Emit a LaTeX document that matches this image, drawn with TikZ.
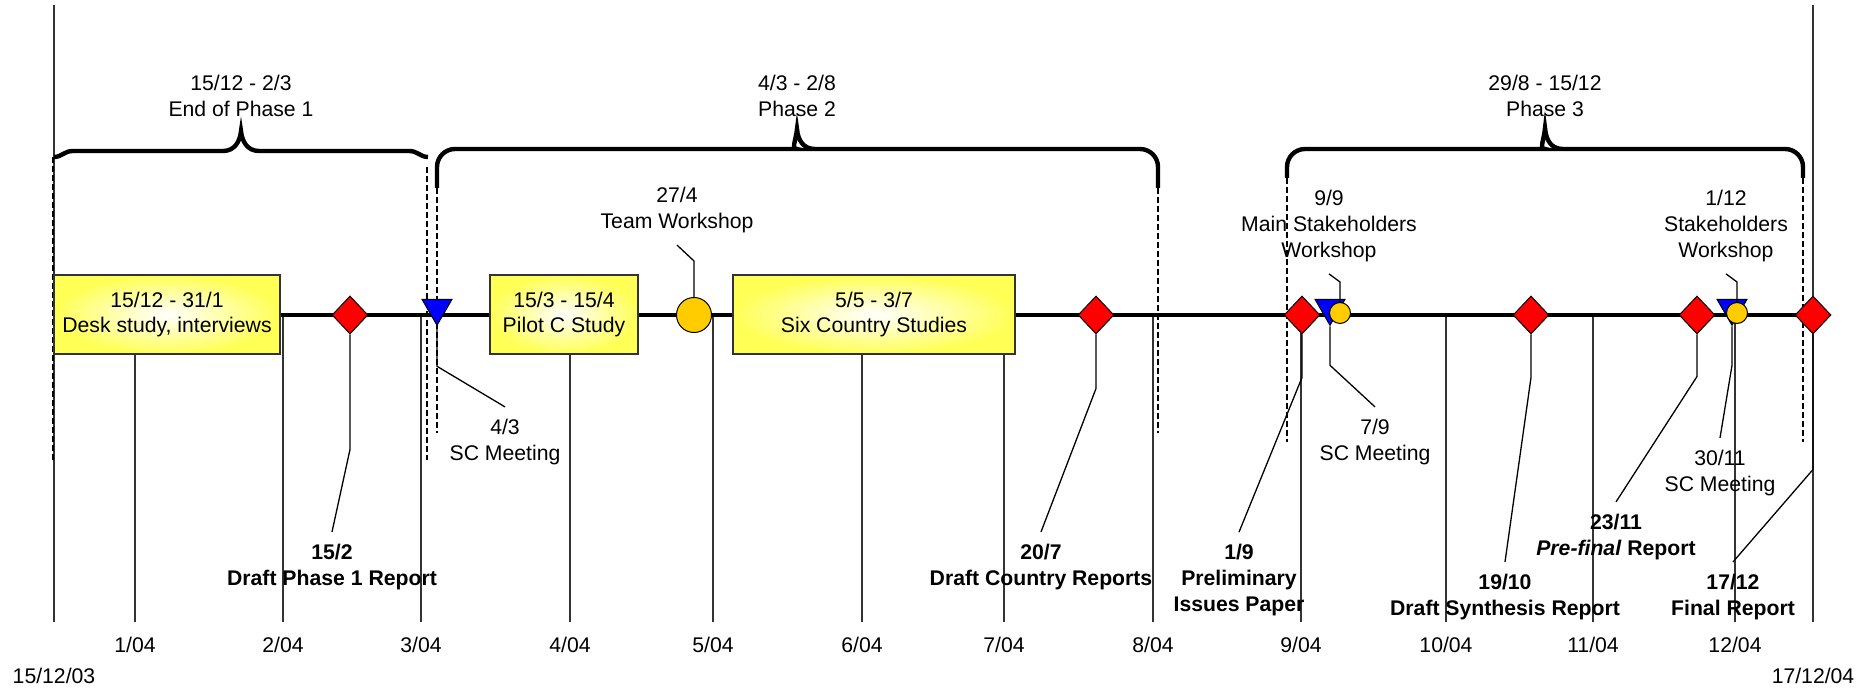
\documentclass[tikz,border=0pt]{standalone}
\usepackage{fontspec}
\setmainfont{Liberation Sans}
\definecolor{msred}{RGB}{255,0,0}
\definecolor{msblue}{RGB}{0,0,255}
\definecolor{msgold}{RGB}{255,204,0}
\definecolor{msyellow}{RGB}{255,255,85}
\definecolor{msgrey}{RGB}{51,51,51}
\usetikzlibrary{shapes.geometric}

\begin{document}
\begin{tikzpicture}[x=0.5pt, y=-0.5pt,
  every node/.style={font=\fontsize{10.6}{12.8}\selectfont, inner sep=0pt},
  task/.style={draw=msgrey, line width=0.65pt, inner color=white, outer color=msyellow, minimum height=39.5pt, align=center},
  report/.style={diamond, draw=black, line width=0.5pt, fill=msred, minimum width=18pt, minimum height=19pt},
  meeting/.style={regular polygon, regular polygon sides=3, shape border rotate=180, draw=black, line width=0.5pt, fill=msblue, minimum size=17.3pt},
  workshop/.style={circle, draw=black, line width=0.5pt, fill=msgold},
  lbl/.style={align=center, inner xsep=2pt, inner ysep=6pt},
  boldlbl/.style={lbl, font=\fontsize{10.6}{12.8}\selectfont\bfseries},
  month/.style={inner ysep=7.6pt},
  gridline/.style={draw=msgrey, line width=0.7pt},
  leader/.style={line width=0.65pt},
  phase/.style={line width=2.2pt},
  bound/.style={line width=1pt, dash pattern=on 3pt off 1.5pt}]
\useasboundingbox (0,0) rectangle (1874,688);

% months along the bottom
\coordinate (line0) at (54,315);
\coordinate (line1) at (1813,315);
\foreach \x/\m in {135/1,283/2,421/3,570/4,713/5,862/6,1004/7,1153/8,1301/9,1446/10,1593/11,1735/12}{
  \node[month] (m\m) at (\x,645) {\m/04};
  \draw[gridline] (m\m.north) -- (m\m.north |- line0);
}
\node[month] (first) at (54,676) {15/12/03};
\node[month] (last) at (1813,676) {17/12/04};
\coordinate (top0) at (54,5);
\coordinate (top1) at (1813,5);
\draw[gridline] (top0) -- (top0 |- m1.north);
\draw[gridline] (top1) -- (top1 |- m1.north);

% phase limits
\draw[bound] (53,157) -- (53,460);
\draw[bound] (427,167) -- (427,460);
\draw[bound] (437,188) -- (437,433);
\draw[bound] (1158,188) -- (1158,433);
\draw[bound] (1287,178) -- (1287,442);
\draw[bound] (1803,178) -- (1803,442);

\draw[phase] (54,157) .. controls (62,157) and (64,151) .. (73,151) -- (223,151) .. controls (235,151) and (240,141) .. (241,131) .. controls (242,141) and (247,151) .. (259,151) -- (409,151) .. controls (418,151) and (420,157) .. (428,157);
\draw[phase] (437,188) [rounded corners=9pt] |- (779,149) [sharp corners] .. controls (791,149) and (796,140) .. (797,129) .. controls (798,140) and (803,149) .. (815,149) [rounded corners=9pt] -| (1158,188);
\draw[phase] (1287,178) [rounded corners=9pt] |- (1527,149) [sharp corners] .. controls (1539,149) and (1544,140) .. (1545,128) .. controls (1546,140) and (1551,149) .. (1563,149) [rounded corners=9pt] -| (1803,178);

\node[lbl] (ph1) at (241,96) {15/12 - 2/3\\End of Phase 1};
\node[lbl] (ph2) at (797,96) {4/3 - 2/8\\Phase 2};
\node[lbl] (ph3) at (1545,96) {29/8 - 15/12\\Phase 3};

% time line
\draw[line width=2pt] (line0) -- (line1);

\node[task, minimum width=113pt] (desk) at (167,314.5) {15/12 - 31/1\\Desk study, interviews};
\node[task, minimum width=74pt] (pilot) at (564,314.5) {15/3 - 15/4\\Pilot C Study};
\node[task, minimum width=141pt] (country) at (874,314.5) {5/5 - 3/7\\Six Country Studies};

\node[report] (dp1) at (350,315) {};
\node[report] (dcr) at (1096,315) {};
\node[report] (pip) at (1302,315) {};
\node[report] (dsr) at (1531,315) {};
\node[report] (pfr) at (1697,315) {};
\node[report] (fr) at (1813,315) {};

\node[meeting] (sc1) at (437,308) {};
\node[meeting] (sc2) at (1330,308) {};
\node[meeting] (sc3) at (1732,308) {};

\node[workshop, minimum size=17.5pt] (tw) at (694,315) {};
\node[workshop, minimum size=10.5pt] (msw) at (1340,313) {};
\node[workshop, minimum size=10.5pt] (sw) at (1737,313) {};

% callouts
\node[lbl] (ltw) at (677,210) {27/4\\Team Workshop};
\node[lbl] (lmsw) at (1329,226) {9/9\\Main Stakeholders\\Workshop};
\node[lbl] (lsw) at (1726,226) {1/12\\Stakeholders\\Workshop};
\node[lbl] (lsc1) at (505,442) {4/3\\SC Meeting};
\node[lbl] (lsc2) at (1375,442) {7/9\\SC Meeting};
\node[lbl] (lsc3) at (1720,473) {30/11\\SC Meeting};
\node[boldlbl] (ldp1) at (332,567) {15/2\\Draft Phase 1 Report};
\node[boldlbl] (ldcr) at (1041,567) {20/7\\Draft Country Reports};
\node[boldlbl] (lpip) at (1239,580) {1/9\\Preliminary\\Issues Paper};
\node[boldlbl] (ldsr) at (1505,597) {19/10\\Draft Synthesis Report};
\node[boldlbl] (lpfr) at (1616,537) {23/11\\\textit{Pre-final} Report};
\node[boldlbl] (lfr) at (1733,597) {17/12\\Final Report};

\draw[leader] (tw.north) -- ++(0,-36) -- (ltw.south);
\draw[leader] (msw.north) -- ++(0,-20) -- (lmsw.south);
\draw[leader] (sw.north) -- ++(0,-20) -- (lsw.south);
\draw[leader] (sc1.south) -- ++(0,40) -- (lsc1.north);
\draw[leader] (sc2.south) -- ++(0,39) -- (lsc2.north);
\draw[leader] (sc3.south) -- ++(0,39) -- (lsc3.north);
\draw[leader] (dp1.south) -- ++(0,115) -- (ldp1.north);
\draw[leader] (dcr.south) -- ++(0,54) -- (ldcr.north);
\draw[leader] (pip.south) -- ++(0,43) -- (lpip.north);
\draw[leader] (dsr.south) -- ++(0,43) -- (ldsr.north);
\draw[leader] (pfr.south) -- ++(0,42) -- (lpfr.north);
\draw[leader] (fr.south) -- ++(0,135) -- (lfr.north);
\end{tikzpicture}
\end{document}
